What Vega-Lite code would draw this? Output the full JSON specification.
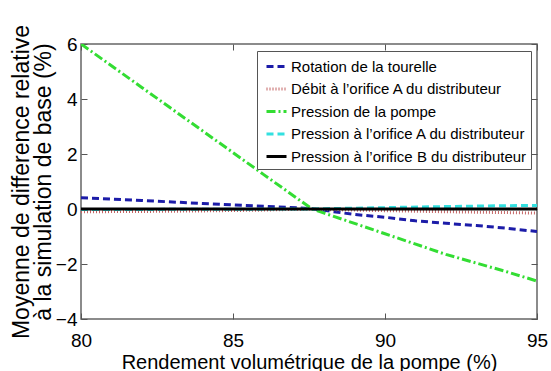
{
  "$schema": "https://vega.github.io/schema/vega-lite/v6.json",
  "width": 456,
  "height": 275,
  "autosize": {"type": "none"},
  "padding": {"left": 81, "top": 44, "right": 14, "bottom": 52},
  "background": "white",
  "config": {
    "font": "Liberation Sans",
    "view": {"stroke": "#666666", "strokeWidth": 1.5},
    "axis": {
      "grid": false,
      "domain": false,
      "tickColor": "#555555",
      "tickWidth": 1,
      "labelColor": "black",
      "titleColor": "black",
      "labelFont": "Liberation Sans",
      "titleFont": "Liberation Sans",
      "titleFontWeight": "normal",
      "labelFlush": false,
      "labelBound": false,
      "labelOverlap": false
    }
  },
  "data": {
    "values": [
      {"x": 80, "y": 0.41, "s": "Rotation de la tourelle"},
      {"x": 82, "y": 0.31, "s": "Rotation de la tourelle"},
      {"x": 84, "y": 0.2, "s": "Rotation de la tourelle"},
      {"x": 86, "y": 0.1, "s": "Rotation de la tourelle"},
      {"x": 87.5, "y": 0.02, "s": "Rotation de la tourelle"},
      {"x": 88, "y": -0.05, "s": "Rotation de la tourelle"},
      {"x": 89, "y": -0.2, "s": "Rotation de la tourelle"},
      {"x": 90, "y": -0.3, "s": "Rotation de la tourelle"},
      {"x": 91, "y": -0.43, "s": "Rotation de la tourelle"},
      {"x": 92, "y": -0.52, "s": "Rotation de la tourelle"},
      {"x": 93, "y": -0.6, "s": "Rotation de la tourelle"},
      {"x": 94, "y": -0.7, "s": "Rotation de la tourelle"},
      {"x": 95, "y": -0.82, "s": "Rotation de la tourelle"},
      {"x": 80, "y": -0.1, "s": "Débit à l’orifice A du distributeur"},
      {"x": 82, "y": -0.09, "s": "Débit à l’orifice A du distributeur"},
      {"x": 84, "y": -0.07, "s": "Débit à l’orifice A du distributeur"},
      {"x": 86, "y": -0.04, "s": "Débit à l’orifice A du distributeur"},
      {"x": 87.5, "y": 0, "s": "Débit à l’orifice A du distributeur"},
      {"x": 88, "y": -0.02, "s": "Débit à l’orifice A du distributeur"},
      {"x": 90, "y": -0.06, "s": "Débit à l’orifice A du distributeur"},
      {"x": 92, "y": -0.1, "s": "Débit à l’orifice A du distributeur"},
      {"x": 94, "y": -0.13, "s": "Débit à l’orifice A du distributeur"},
      {"x": 95, "y": -0.15, "s": "Débit à l’orifice A du distributeur"},
      {"x": 80, "y": 6, "s": "Pression de la pompe"},
      {"x": 82, "y": 4.42, "s": "Pression de la pompe"},
      {"x": 84, "y": 2.84, "s": "Pression de la pompe"},
      {"x": 86, "y": 1.26, "s": "Pression de la pompe"},
      {"x": 87.6, "y": 0, "s": "Pression de la pompe"},
      {"x": 88, "y": -0.15, "s": "Pression de la pompe"},
      {"x": 90, "y": -0.9, "s": "Pression de la pompe"},
      {"x": 92, "y": -1.65, "s": "Pression de la pompe"},
      {"x": 94, "y": -2.28, "s": "Pression de la pompe"},
      {"x": 95, "y": -2.62, "s": "Pression de la pompe"},
      {"x": 80, "y": -0.02, "s": "Pression à l’orifice A du distributeur"},
      {"x": 84, "y": -0.01, "s": "Pression à l’orifice A du distributeur"},
      {"x": 87.5, "y": 0, "s": "Pression à l’orifice A du distributeur"},
      {"x": 88, "y": 0.01, "s": "Pression à l’orifice A du distributeur"},
      {"x": 90, "y": 0.05, "s": "Pression à l’orifice A du distributeur"},
      {"x": 92, "y": 0.09, "s": "Pression à l’orifice A du distributeur"},
      {"x": 94, "y": 0.12, "s": "Pression à l’orifice A du distributeur"},
      {"x": 95, "y": 0.13, "s": "Pression à l’orifice A du distributeur"},
      {"x": 80, "y": 0, "s": "Pression à l’orifice B du distributeur"},
      {"x": 87.5, "y": 0, "s": "Pression à l’orifice B du distributeur"},
      {"x": 95, "y": 0, "s": "Pression à l’orifice B du distributeur"}
    ]
  },
  "layer": [
    {
      "mark": {"type": "line", "strokeWidth": 3, "clip": true},
      "encoding": {
        "x": {
          "field": "x", "type": "quantitative",
          "scale": {"domain": [80, 95], "nice": false, "zero": false},
          "axis": {
            "values": [80, 85, 90, 95],
            "title": "Rendement volumétrique de la pompe (%)",
            "titleFontSize": 20,
            "titleBaseline": "alphabetic",
            "titleY": 49,
            "labelFontSize": 19,
            "tickSize": -6,
            "labelPadding": 18
          }
        },
        "y": {
          "field": "y", "type": "quantitative",
          "scale": {"domain": [-4, 6], "nice": false, "zero": false},
          "axis": {
            "values": [-4, -2, 0, 2, 4, 6],
            "title": ["Moyenne de difference relative", "à la simulation de base (%)"],
            "titleFontSize": 23,
            "titleLineHeight": 22,
            "titleAngle": -90,
            "titleAlign": "center",
            "titleBaseline": "middle",
            "titleX": -60,
            "titleY": 137.5,
            "labelFontSize": 19,
            "tickSize": -6,
            "labelPadding": 10
          }
        },
        "color": {
          "field": "s", "type": "nominal",
          "scale": {
            "domain": ["Rotation de la tourelle", "Débit à l’orifice A du distributeur", "Pression de la pompe", "Pression à l’orifice A du distributeur", "Pression à l’orifice B du distributeur"],
            "range": ["#1c1ca8", "#c46464", "#33dd33", "#33e0e0", "#000000"]
          },
          "legend": {
            "title": null,
            "orient": "none",
            "legendX": 176,
            "legendY": 7,
            "direction": "vertical",
            "symbolType": "stroke",
            "symbolSize": 400,
            "symbolStrokeWidth": 3,
            "symbolOffset": 4,
            "labelFontSize": 15,
            "labelFont": "Liberation Sans",
            "labelColor": "black",
            "labelOffset": 3,
            "labelLimit": 400,
            "rowPadding": 2.5,
            "padding": 4,
            "strokeColor": "#555555",
            "fillColor": "white",
            "cornerRadius": 0
          }
        },
        "strokeDash": {
          "field": "s", "type": "nominal",
          "scale": {
            "domain": ["Rotation de la tourelle", "Débit à l’orifice A du distributeur", "Pression de la pompe", "Pression à l’orifice A du distributeur", "Pression à l’orifice B du distributeur"],
            "range": [[7, 4], [1, 2], [9, 3, 2, 3], [7, 4], [1, 0]]
          },
          "legend": {
            "title": null,
            "orient": "none",
            "legendX": 176,
            "legendY": 7,
            "direction": "vertical",
            "symbolType": "stroke",
            "symbolSize": 400,
            "symbolStrokeWidth": 3,
            "symbolOffset": 4,
            "labelFontSize": 15,
            "labelFont": "Liberation Sans",
            "labelColor": "black",
            "labelOffset": 3,
            "labelLimit": 400,
            "rowPadding": 2.5,
            "padding": 4,
            "strokeColor": "#555555",
            "fillColor": "white",
            "cornerRadius": 0
          }
        }
      }
    },
    {
      "mark": {"type": "point", "opacity": 0},
      "encoding": {
        "x": {
          "field": "x", "type": "quantitative",
          "axis": {"orient": "top", "values": [80, 85, 90, 95], "labels": false, "title": null, "tickSize": -6}
        },
        "y": {
          "field": "y", "type": "quantitative",
          "axis": {"orient": "right", "values": [-4, -2, 0, 2, 4, 6], "labels": false, "title": null, "tickSize": -6}
        }
      }
    }
  ],
  "resolve": {"axis": {"x": "independent", "y": "independent"}}
}
